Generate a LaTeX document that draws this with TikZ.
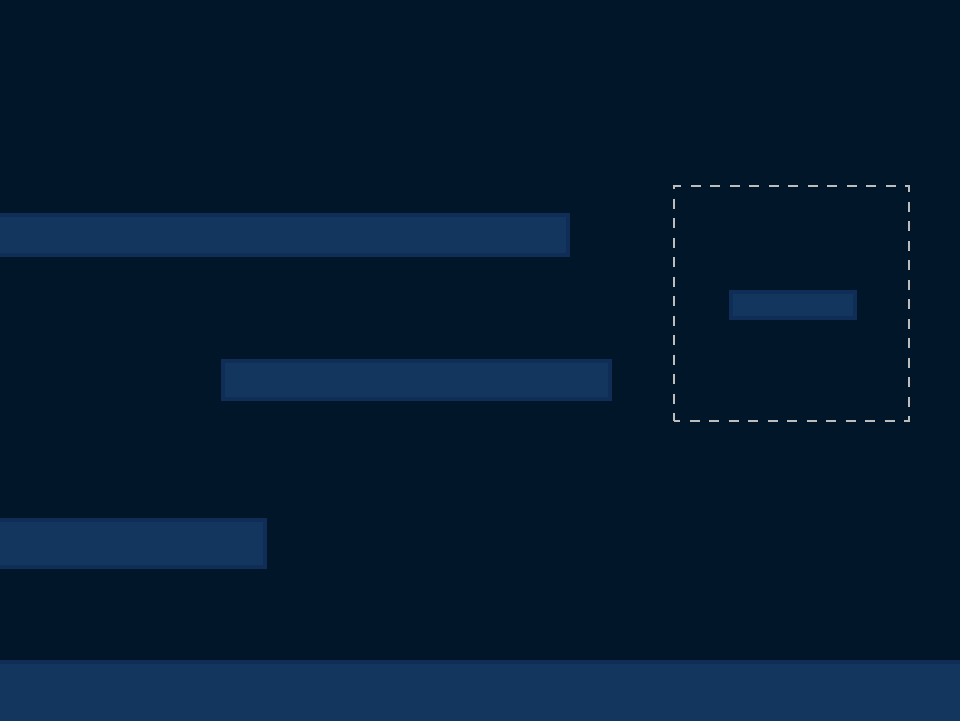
\documentclass[tikz,border=0pt]{standalone}
\definecolor{bgc}{HTML}{021629}
\definecolor{barfill}{HTML}{13365F}
\definecolor{barline}{HTML}{0F2D56}
\definecolor{dashc}{HTML}{BDBDBD}
\begin{document}
\begin{tikzpicture}[x=1pt,y=-1pt,
  bar/.style={fill=barfill,draw=barline,line width=4pt,inner sep=0pt,outer sep=0pt,anchor=north west},
  dbox/.style={draw=dashc,line width=1.6pt,dash pattern=on 10pt off 9.5pt,dash phase=4pt,inner sep=0pt,outer sep=0pt,anchor=north west}]
\fill[bgc] (0,0) rectangle (960,720);
\useasboundingbox (0,0) rectangle (960,720);
\begin{scope}
\clip (0,0) rectangle (960,720);
\node[bar,minimum width=578pt,minimum height=40pt] (b1) at (-10,215) {};
\node[bar,minimum width=387pt,minimum height=38pt] (b2) at (223,361) {};
\node[bar,minimum width=124pt,minimum height=26pt] (b4) at (731,292) {};
\node[bar,minimum width=275pt,minimum height=47pt] (b3) at (-10,520) {};
\node[bar,minimum width=990pt,minimum height=80pt] (b5) at (-10,662) {};
\node[dbox,minimum width=235pt,minimum height=235pt] (box) at (674,186) {};
\end{scope}
\end{tikzpicture}
\end{document}
